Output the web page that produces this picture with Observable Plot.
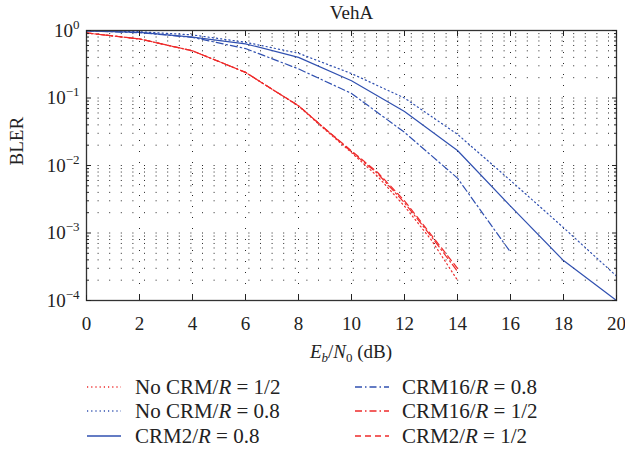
<!DOCTYPE html>
<html><head><meta charset="utf-8">
<script src="https://cdn.jsdelivr.net/npm/d3@7"></script>
<script src="https://cdn.jsdelivr.net/npm/@observablehq/plot@0.6"></script>
<style>
body{margin:0;background:#fff;font-family:"Liberation Serif","Times New Roman",serif;}
#wrap{position:relative;width:625px;height:465px;overflow:hidden}
#legend{position:absolute;left:0;top:0;width:625px;height:465px;pointer-events:none}
.item{position:absolute;font-size:21px;line-height:24px;color:#222;white-space:pre;transform:translateY(-50%)}
</style></head><body><div id="wrap"><div id="chart"></div><div id="legend"></div></div>
<script>
// ---- data ----
const titleText = "VehA";
const xTicks = [0, 2, 4, 6, 8, 10, 12, 14, 16, 18, 20];
const yMajorTicks = [1e-4, 1e-3, 1e-2, 1e-1, 1];
const xGridLines = [2, 4, 6, 8, 10, 12, 14, 16, 18];

const ebn0Blue = [0, 2, 4, 6, 8, 10, 12, 14, 16, 18, 20];
const noCrmR08 = [0.99, 0.96, 0.86, 0.67, 0.46, 0.23, 0.10, 0.029, 0.006, 0.0012, 0.00023];
const crm2R08  = [0.99, 0.94, 0.80, 0.635, 0.40, 0.18, 0.063, 0.0167, 0.0025, 0.00039, 0.0001];

const ebn0Crm16 = [0, 2, 4, 6, 8, 10, 12, 14, 16];
const crm16R08  = [0.99, 0.93, 0.79, 0.54, 0.27, 0.117, 0.031, 0.0065, 0.00052];

const ebn0Red  = [0, 2, 4, 6, 7, 8, 9, 10, 11, 12, 13, 14];
const noCrmR05 = [0.92, 0.75, 0.50, 0.24, 0.135, 0.076, 0.034, 0.0155, 0.0068, 0.0025, 0.0008, 0.0002];
const crm16R05 = [0.92, 0.75, 0.50, 0.24, 0.135, 0.077, 0.035, 0.016, 0.0075, 0.0028, 0.0009, 0.00027];
const crm2R05  = [0.92, 0.75, 0.50, 0.24, 0.135, 0.077, 0.035, 0.0165, 0.0078, 0.003, 0.00095, 0.0003];

const blue = "#3050b0", red = "#ee2a2a";
const series = [
  {key: "noCrmR05", label: "No CRM/<i>R</i> = 1/2", xs: ebn0Red, ys: noCrmR05, color: red, dash: "1.2,3"},
  {key: "noCrmR08", label: "No CRM/<i>R</i> = 0.8", xs: ebn0Blue, ys: noCrmR08, color: blue, dash: "1.2,3"},
  {key: "crm2R08", label: "CRM2/<i>R</i> = 0.8", xs: ebn0Blue, ys: crm2R08, color: blue, dash: null},
  {key: "crm16R08", label: "CRM16/<i>R</i> = 0.8", xs: ebn0Crm16, ys: crm16R08, color: blue, dash: "7,3,1.5,3"},
  {key: "crm2R05", label: "CRM2/<i>R</i> = 1/2", xs: ebn0Red, ys: crm2R05, color: red, dash: "6,4"},
  {key: "crm16R05", label: "CRM16/<i>R</i> = 1/2", xs: ebn0Red, ys: crm16R05, color: red, dash: "7,3,1.5,3"}
];
const legendOrder = ["noCrmR05", "noCrmR08", "crm2R08", "crm16R08", "crm16R05", "crm2R05"];

// minor log grid values
const yMinor = [];
for (let k = -4; k < 0; k++) for (let m = 2; m <= 9; m++) yMinor.push(m * Math.pow(10, k));
const yGridAll = yMinor.concat([1e-3, 1e-2, 1e-1]);

const rows = [];
for (const s of series) s.xs.forEach((x, i) => rows.push({key: s.key, x, y: s.ys[i]}));

const marks = [
  Plot.ruleY(yGridAll, {y: d => d, stroke: "#000", strokeOpacity: 0.85, strokeDasharray: "1,10.6"}),
  Plot.ruleX(xGridLines, {x: d => d, stroke: "#000", strokeOpacity: 0.85, strokeDasharray: "1,10"})
];
for (const s of series) {
  marks.push(Plot.line(rows.filter(r => r.key === s.key), {
    x: "x", y: "y", stroke: s.color, strokeWidth: 1.2,
    strokeDasharray: s.dash || undefined
  }));
}
marks.push(
  Plot.frame({stroke: "#333", strokeWidth: 1.3}),
  Plot.axisX({anchor: "bottom", ticks: xTicks, tickSize: -5, tickPadding: 21, tickFormat: d => String(d), label: null, fontSize: 19}),
  Plot.axisX({anchor: "top", ticks: xTicks, tickSize: -5, tickFormat: () => "", label: null}),
  Plot.axisY({anchor: "left", ticks: yMajorTicks, tickSize: -5, tickPadding: 12, tickFormat: d => "10^" + Math.round(Math.log10(d)), label: null, fontSize: 19}),
  Plot.axisY({anchor: "left", ticks: yMinor, tickSize: -3, tickFormat: () => "", label: null}),
  Plot.axisY({anchor: "right", ticks: yMajorTicks, tickSize: -5, tickFormat: () => "", label: null}),
  Plot.axisY({anchor: "right", ticks: yMinor, tickSize: -3, tickFormat: () => "", label: null}),
  Plot.text([titleText], {text: d => d, frameAnchor: "top", dy: -12, lineAnchor: "bottom", fontSize: 19, fill: "#222"}),
  Plot.text(["BLER"], {text: d => d, frameAnchor: "left", dx: -70, rotate: -90, fontSize: 19, fill: "#222"})
);

const chart = Plot.plot({
  width: 625, height: 370,
  marginLeft: 86, marginRight: 9, marginTop: 30, marginBottom: 70,
  x: {domain: [0, 20]},
  y: {type: "log", domain: [1e-4, 1]},
  style: {fontFamily: "'Liberation Serif', 'Times New Roman', serif", fontSize: "19px", color: "#222", background: "#fff"},
  marks
});
document.getElementById("chart").appendChild(chart);

// superscript exponents on y tick labels
const NS = "http://www.w3.org/2000/svg";
chart.querySelectorAll("text").forEach(t => {
  const m = /^10\^(-?\d+)$/.exec(t.textContent);
  if (!m) return;
  while (t.firstChild) t.removeChild(t.firstChild);
  t.appendChild(document.createTextNode("10"));
  const sup = document.createElementNS(NS, "tspan");
  sup.setAttribute("dy", "-8");
  sup.setAttribute("font-size", "13");
  sup.textContent = m[1].replace("-", "\u2212");
  t.appendChild(sup);
});

// x axis label E_b/N_0 (dB)
const xl = document.createElementNS(NS, "text");
xl.setAttribute("x", 351); xl.setAttribute("y", 358);
xl.setAttribute("text-anchor", "middle"); xl.setAttribute("font-size", "19"); xl.setAttribute("fill", "#222");
const parts = [["E", {"font-style": "italic"}], ["b", {"font-style": "italic", "font-size": "13", dy: "4"}], ["/", {dy: "-4"}], ["N", {"font-style": "italic"}], ["0", {"font-size": "13", dy: "4"}], [" (dB)", {dy: "-4"}]];
for (const [txt, attrs] of parts) {
  const ts = document.createElementNS(NS, "tspan");
  for (const k in attrs) ts.setAttribute(k, attrs[k]);
  ts.textContent = txt;
  xl.appendChild(ts);
}
chart.appendChild(xl);

// legend
const legend = document.getElementById("legend");
const legendRowsY = [387, 411, 436];
const legendCols = [{sx: 87, tx: 135}, {sx: 355, tx: 402}];
legendOrder.forEach((key, i) => {
  const s = series.find(d => d.key === key);
  const col = legendCols[Math.floor(i / 3)], y = legendRowsY[i % 3];
  const sw = document.createElementNS(NS, "svg");
  sw.setAttribute("width", 34); sw.setAttribute("height", 10);
  sw.style.position = "absolute"; sw.style.left = col.sx + "px"; sw.style.top = (y - 5) + "px";
  const ln = document.createElementNS(NS, "line");
  ln.setAttribute("x1", 0); ln.setAttribute("x2", 34); ln.setAttribute("y1", 5); ln.setAttribute("y2", 5);
  ln.setAttribute("stroke", s.color); ln.setAttribute("stroke-width", 1.3);
  if (s.dash) ln.setAttribute("stroke-dasharray", s.dash);
  sw.appendChild(ln);
  legend.appendChild(sw);
  const tx = document.createElement("div");
  tx.className = "item";
  tx.style.left = col.tx + "px"; tx.style.top = y + "px";
  tx.innerHTML = "<span>" + s.label + "</span>";
  legend.appendChild(tx);
});
</script>
</body></html>
